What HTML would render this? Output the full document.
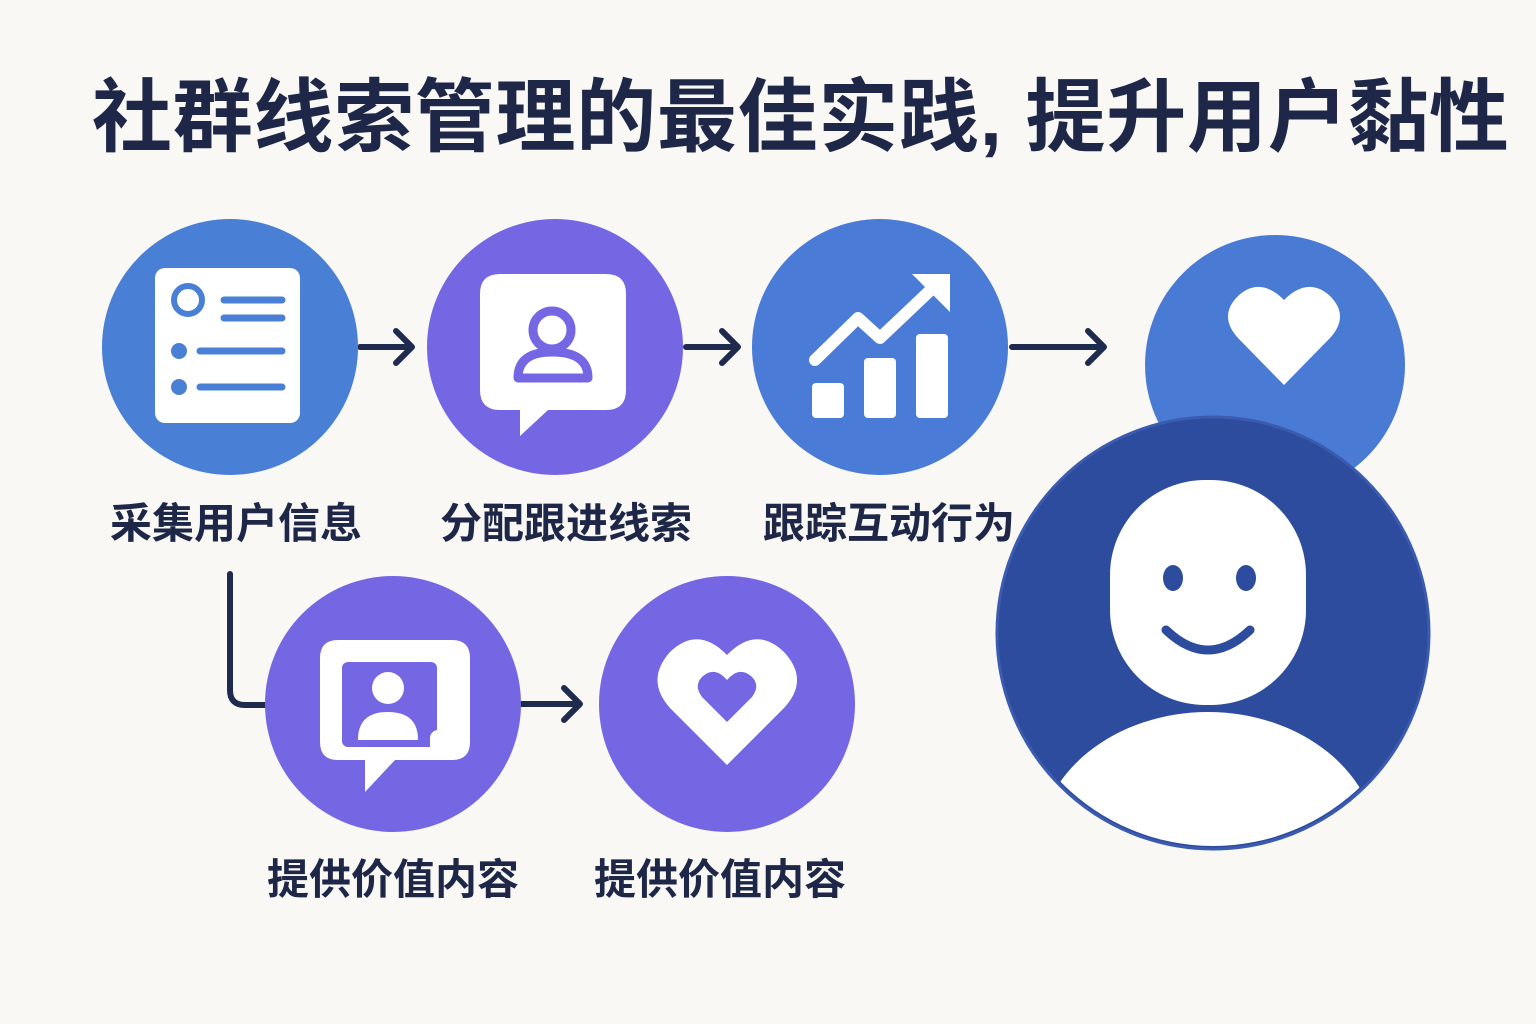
<!DOCTYPE html>
<html><head><meta charset="utf-8"><style>
html,body{margin:0;padding:0;background:#f9f8f4;}
body{width:1536px;height:1024px;position:relative;overflow:hidden;font-family:"Liberation Sans","Noto Sans CJK SC",sans-serif;}
.t{position:absolute;font-weight:bold;color:#1e2747;white-space:nowrap;}
</style></head><body>
<div class="t" style="left:92px;top:53px;font-size:80px;letter-spacing:0.7px;">社群线索管理的最佳实践, 提升用户黏性</div>
<svg width="1536" height="1024" style="position:absolute;left:0;top:0">
<g stroke="#1f2a4f" stroke-width="6" fill="none" stroke-linecap="round" stroke-linejoin="round">
<path d="M360 347H410M396 331L412 347L396 363"/>
<path d="M686 347H736M722 331L738 347L722 363"/>
<path d="M1012 347H1102M1088 331L1104 347L1088 363"/>
<path d="M521 704H578M564 688L580 704L564 720"/>
<path d="M230 574V690Q230 705 245 705H268"/>
</g>
<circle cx="230" cy="347" r="128" fill="#4a7fd6"/>
<circle cx="555" cy="347" r="128" fill="#7566e3"/>
<circle cx="880" cy="347" r="128" fill="#4a7bd6"/>
<circle cx="1275" cy="365" r="130" fill="#4a7bd4"/>
<circle cx="393" cy="704" r="128" fill="#7566e3"/>
<circle cx="727" cy="704" r="128" fill="#7566e3"/>
<rect x="155" y="268" width="145" height="155" rx="10" fill="#fff"/>
<circle cx="188" cy="300" r="14" fill="none" stroke="#4a7fd6" stroke-width="6"/>
<g stroke="#4a7fd6" stroke-width="7" stroke-linecap="round">
<path d="M224 300H282M224 318H282M200 351H282M200 387H282"/></g>
<circle cx="179" cy="351" r="8" fill="#4a7fd6"/><circle cx="179" cy="387" r="8" fill="#4a7fd6"/>
<path d="M500 274H606Q626 274 626 294V390Q626 410 606 410H548L520 436V410H500Q480 410 480 390V294Q480 274 500 274Z" fill="#fff"/>
<circle cx="552" cy="330" r="19" fill="none" stroke="#7566e3" stroke-width="9"/>
<path d="M518 378Q518 352 552 352Q588 352 588 378Z" fill="none" stroke="#7566e3" stroke-width="9" stroke-linejoin="round"/>
<g fill="#fff"><rect x="812" y="383" width="32" height="35" rx="4"/><rect x="864" y="358" width="32" height="60" rx="4"/><rect x="916" y="334" width="32" height="84" rx="4"/></g>
<path d="M815 360L858 318L880 338L938 283" stroke="#fff" stroke-width="12" fill="none" stroke-linecap="round" stroke-linejoin="round"/>
<path d="M912 274H950V312Z" fill="#fff"/>
<path d="M1284 385L1238 338Q1218 316 1238 296Q1260 276 1284 300Q1308 276 1330 296Q1350 316 1330 338Z" fill="#fff"/>
<defs><clipPath id="c"><circle cx="1213" cy="633" r="213"/></clipPath></defs>
<circle cx="1213" cy="633" r="216" fill="#2d4c9d" stroke="#3a5bb0" stroke-width="3"/>
<g clip-path="url(#c)">
<ellipse cx="1208" cy="850" rx="170" ry="138" fill="#fff"/>
</g>
<rect x="1110" y="480" width="196" height="225" rx="95" fill="#fff"/>
<ellipse cx="1173" cy="578" rx="10" ry="13" fill="#2d4c9d"/><ellipse cx="1246" cy="578" rx="10" ry="13" fill="#2d4c9d"/>
<path d="M1166 630Q1208 670 1250 630" stroke="#2d4c9d" stroke-width="9" fill="none" stroke-linecap="round"/>
<path d="M338 640H452Q470 640 470 658V742Q470 760 452 760H395L365 792V760H338Q320 760 320 742V658Q320 640 338 640Z" fill="#fff"/>
<rect x="342" y="662" width="95" height="85" rx="6" fill="#7566e3"/>
<circle cx="388" cy="688" r="16" fill="#fff"/>
<path d="M358 740Q358 712 388 712Q418 712 418 740Z" fill="#fff"/>
<rect x="430" y="730" width="30" height="30" rx="8" fill="#fff"/>
<path d="M727 765L670 708Q645 680 670 652Q698 625 727 655Q756 625 784 652Q810 680 784 708Z" fill="#fff"/>
<path d="M727 722L702 697Q693 685 703 676Q715 666 727 680Q739 666 751 676Q761 685 752 697Z" fill="#7566e3"/>
</svg>
<div class="t" style="left:110px;top:490px;font-size:42px;">采集用户信息</div>
<div class="t" style="left:440px;top:490px;font-size:42px;">分配跟进线索</div>
<div class="t" style="left:763px;top:490px;font-size:42px;">跟踪互动行为</div>
<div class="t" style="left:267px;top:846px;font-size:42px;">提供价值内容</div>
<div class="t" style="left:594px;top:846px;font-size:42px;">提供价值内容</div>
</body></html>
